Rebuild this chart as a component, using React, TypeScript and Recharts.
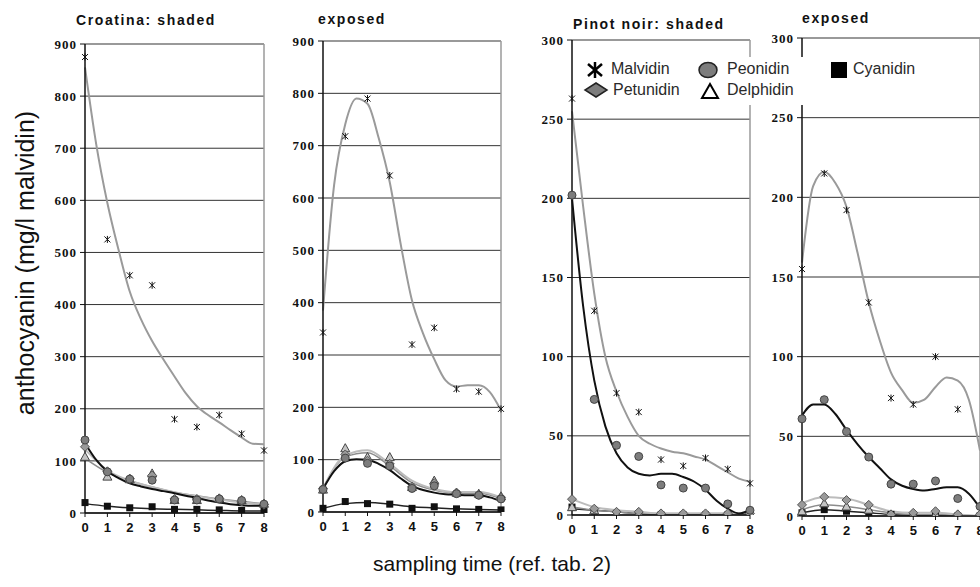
import React from 'react';
import {
  ComposedChart,
  Line,
  Scatter,
  XAxis,
  YAxis,
  CartesianGrid,
  ReferenceLine,
} from 'recharts';

// ── Sampling times ────────────────────────────────────────────────────────────

const SAMPLE_X = [0, 1, 2, 3, 4, 5, 6, 7, 8];
const FIT_X = [0, 0.5, 1, 1.5, 2, 2.5, 3, 3.5, 4, 4.5, 5, 5.5, 6, 6.5, 7, 7.5, 8];

// ── Croatina: shaded ──────────────────────────────────────────────────────────

const CS_MALVIDIN = [875, 525, 456, 437, 180, 165, 188, 152, 120];
const CS_PEONIDIN = [140, 79, 65, 63, 25, 25, 27, 24, 17];
const CS_PETUNIDIN = [127, 80, 66, 72, 27, 27, 28, 22, 16];
const CS_DELPHIDIN = [108, 70, 65, 76, 25, 25, 28, 25, 18];
const CS_CYANIDIN = [20, 13, 10, 12, 7, 7, 6, 5, 5];
const CS_MALVIDIN_FIT = [855, 708, 595, 505, 425, 372, 330, 295, 262, 230, 205, 188, 174, 159, 145, 133, 132];
const CS_PEONIDIN_FIT = [134, 102, 80, 67, 57, 51, 46, 42, 38, 33, 29, 24, 20, 17, 15, 14, 14];
const CS_PETUNIDIN_FIT = [122, 82, 62, 50, 40, 32, 26, 20, 17];
const CS_DELPHIDIN_FIT = [105, 78, 62, 50, 40, 33, 27, 22, 18];
const CS_CYANIDIN_FIT = [18, 13, 10, 8, 7, 6, 5, 4, 4];

// ── Croatina: exposed ─────────────────────────────────────────────────────────

const CE_MALVIDIN = [343, 718, 790, 643, 320, 352, 235, 230, 197];
const CE_PEONIDIN = [43, 103, 93, 88, 45, 50, 35, 32, 25];
const CE_PETUNIDIN = [45, 110, 98, 92, 48, 55, 37, 33, 28];
const CE_DELPHIDIN = [43, 122, 105, 105, 48, 60, 37, 35, 30];
const CE_CYANIDIN = [7, 20, 16, 15, 7, 10, 6, 5, 4];
const CE_MALVIDIN_FIT = [385, 625, 741, 790, 780, 715, 630, 510, 404, 341, 292, 252, 240, 242, 242, 229, 194];
const CE_PEONIDIN_FIT = [44, 78, 97, 101, 100, 92, 80, 64, 50, 42, 37, 34, 33, 32, 32, 28, 21];
const CE_PETUNIDIN_FIT = [45, 108, 118, 92, 60, 44, 38, 38, 28];
const CE_DELPHIDIN_FIT = [45, 105, 113, 88, 56, 42, 36, 36, 26];
const CE_CYANIDIN_FIT = [7, 16, 18, 15, 10, 8, 6, 5, 4];

// ── Pinot noir: shaded ────────────────────────────────────────────────────────

const PS_MALVIDIN = [263, 129, 77, 65, 35, 31, 36, 29, 20];
const PS_PEONIDIN = [202, 73, 44, 37, 19, 17, 17, 7, 3];
const PS_PETUNIDIN = [10, 4, 2, 2, 1, 1, 1, 1, 1];
const PS_DELPHIDIN = [5, 3, 1, 1, 0, 0, 0, 0, 0];
const PS_CYANIDIN = [5, 2, 1, 0, 0, 0, 0, 0, 0];
const PS_MALVIDIN_FIT = [255, 195, 140, 100, 78, 62, 50, 45, 42, 40, 39, 37, 35, 31, 27, 23, 21];
const PS_PEONIDIN_FIT = [200, 132, 85, 56, 39, 30, 26, 25, 26, 26, 24, 21, 16, 9, 4, 1, 3];
const PS_PETUNIDIN_FIT = [10, 5, 3, 2, 1, 1, 1, 1, 1];
const PS_DELPHIDIN_FIT = [5, 3, 2, 1, 1, 1, 1, 1, 1];
const PS_CYANIDIN_FIT = [4, 3, 2, 1, 0.5, 0.5, 0.5, 0.5, 0.5];

// ── Pinot noir: exposed ───────────────────────────────────────────────────────

const PE_MALVIDIN = [155, 215, 192, 134, 74, 70, 100, 67, null];
const PE_PEONIDIN = [61, 73, 53, 37, 20, 20, 22, 11, 6];
const PE_PETUNIDIN = [7, 12, 10, 7, 1, 2, 3, 1, 1];
const PE_DELPHIDIN = [3, 8, 6, 4, 1, 1, 1, 1, 0];
const PE_CYANIDIN = [2, 4, 3, 2, 1, 0, 0, 0, 0];
const PE_MALVIDIN_FIT = [159, 207, 216, 209, 194, 165, 134, 110, 90, 79, 71, 73, 81, 87, 85, 73, 41];
const PE_PEONIDIN_FIT = [63, 70, 70, 64, 54, 45, 37, 30, 23, 19, 17, 16, 17, 18, 18, 14, 5];
const PE_PETUNIDIN_FIT = [8, 12, 11, 7, 3, 2, 2, 1, 0];
const PE_DELPHIDIN_FIT = [4, 7, 6, 4, 2, 1, 1, 0.5, 0];
const PE_CYANIDIN_FIT = [2, 4, 3, 2, 1, 0.5, 0, 0, 0];

// ── Axis ticks ────────────────────────────────────────────────────────────────

const TICKS_900 = [0, 100, 200, 300, 400, 500, 600, 700, 800, 900];
const TICKS_300 = [0, 50, 100, 150, 200, 250, 300];

// ── Helpers ───────────────────────────────────────────────────────────────────

type Pt = { x: number; y: number };

const toPoints = (xs: number[], ys: (number | null)[]): Pt[] =>
  xs
    .map((x, i) => ({ x, y: ys[i] }))
    .filter((p): p is Pt => p.y !== null && p.y !== undefined);

// ── Marker shapes ─────────────────────────────────────────────────────────────

const AsteriskMark = (props: any) => {
  const { cx, cy } = props;
  const s = 3;
  return (
    <g stroke="#111" strokeWidth={1}>
      <line x1={cx - s} y1={cy - s} x2={cx + s} y2={cy + s} />
      <line x1={cx - s} y1={cy + s} x2={cx + s} y2={cy - s} />
      <line x1={cx} y1={cy - s - 0.5} x2={cx} y2={cy + s + 0.5} />
    </g>
  );
};

const CircleMark = (props: any) => (
  <circle cx={props.cx} cy={props.cy} r={4} fill="#7d7d7d" stroke="#444" strokeWidth={1} />
);

const DiamondMark = (props: any) => {
  const { cx, cy } = props;
  const s = 4.5;
  return (
    <polygon
      points={`${cx},${cy - s} ${cx + s},${cy} ${cx},${cy + s} ${cx - s},${cy}`}
      fill="#9a9a9a"
      stroke="#555"
      strokeWidth={1}
    />
  );
};

const TriangleMark = (props: any) => {
  const { cx, cy } = props;
  const s = 4.5;
  return (
    <polygon
      points={`${cx},${cy - s} ${cx + s},${cy + s * 0.8} ${cx - s},${cy + s * 0.8}`}
      fill="#c4c4c4"
      stroke="#444"
      strokeWidth={1}
    />
  );
};

const SquareMark = (props: any) => (
  <rect x={props.cx - 3.5} y={props.cy - 3.5} width={7} height={7} fill="#111" />
);

// ── Panels ────────────────────────────────────────────────────────────────────

interface Panel {
  title: string;
  titleX: number;
  titleY: number;
  plotLeft: number;
  plotRight: number;
  plotTop: number;
  plotBottom: number;
  yMax: number;
  yTicks: number[];
  malvidin: (number | null)[];
  peonidin: number[];
  petunidin: number[];
  delphidin: number[];
  cyanidin: number[];
  malvidinFit: number[];
  peonidinFit: number[];
  petunidinFit: number[];
  delphidinFit: number[];
  cyanidinFit: number[];
}

const PANELS: Panel[] = [
  {
    title: 'Croatina: shaded', titleX: 76, titleY: 25,
    plotLeft: 85, plotRight: 264, plotTop: 44, plotBottom: 513,
    yMax: 900, yTicks: TICKS_900,
    malvidin: CS_MALVIDIN, peonidin: CS_PEONIDIN, petunidin: CS_PETUNIDIN,
    delphidin: CS_DELPHIDIN, cyanidin: CS_CYANIDIN,
    malvidinFit: CS_MALVIDIN_FIT, peonidinFit: CS_PEONIDIN_FIT,
    petunidinFit: CS_PETUNIDIN_FIT, delphidinFit: CS_DELPHIDIN_FIT,
    cyanidinFit: CS_CYANIDIN_FIT,
  },
  {
    title: 'exposed', titleX: 318, titleY: 24,
    plotLeft: 323, plotRight: 501, plotTop: 41, plotBottom: 512,
    yMax: 900, yTicks: TICKS_900,
    malvidin: CE_MALVIDIN, peonidin: CE_PEONIDIN, petunidin: CE_PETUNIDIN,
    delphidin: CE_DELPHIDIN, cyanidin: CE_CYANIDIN,
    malvidinFit: CE_MALVIDIN_FIT, peonidinFit: CE_PEONIDIN_FIT,
    petunidinFit: CE_PETUNIDIN_FIT, delphidinFit: CE_DELPHIDIN_FIT,
    cyanidinFit: CE_CYANIDIN_FIT,
  },
  {
    title: 'Pinot noir: shaded', titleX: 573, titleY: 29,
    plotLeft: 572, plotRight: 750, plotTop: 40, plotBottom: 515,
    yMax: 300, yTicks: TICKS_300,
    malvidin: PS_MALVIDIN, peonidin: PS_PEONIDIN, petunidin: PS_PETUNIDIN,
    delphidin: PS_DELPHIDIN, cyanidin: PS_CYANIDIN,
    malvidinFit: PS_MALVIDIN_FIT, peonidinFit: PS_PEONIDIN_FIT,
    petunidinFit: PS_PETUNIDIN_FIT, delphidinFit: PS_DELPHIDIN_FIT,
    cyanidinFit: PS_CYANIDIN_FIT,
  },
  {
    title: 'exposed', titleX: 802, titleY: 23,
    plotLeft: 802, plotRight: 980, plotTop: 38, plotBottom: 516,
    yMax: 300, yTicks: TICKS_300,
    malvidin: PE_MALVIDIN, peonidin: PE_PEONIDIN, petunidin: PE_PETUNIDIN,
    delphidin: PE_DELPHIDIN, cyanidin: PE_CYANIDIN,
    malvidinFit: PE_MALVIDIN_FIT, peonidinFit: PE_PEONIDIN_FIT,
    petunidinFit: PE_PETUNIDIN_FIT, delphidinFit: PE_DELPHIDIN_FIT,
    cyanidinFit: PE_CYANIDIN_FIT,
  },
];

// ── Shared style constants ────────────────────────────────────────────────────

const Y_AXIS_W = 45;
const RIGHT_PAD = 10;
const X_AXIS_H = 30;

const Y_TICK_STYLE = {
  fontSize: 13,
  fontWeight: 'bold',
  fill: '#111',
  fontFamily: '"Liberation Serif", serif',
  letterSpacing: 1,
};

const X_TICK_STYLE = {
  fontSize: 13,
  fontWeight: 'bold',
  fill: '#111',
  fontFamily: '"Liberation Sans", Arial, sans-serif',
};

const TITLE_STYLE: React.CSSProperties = {
  position: 'absolute',
  fontFamily: '"Liberation Sans", Arial, sans-serif',
  fontWeight: 'bold',
  fontSize: 14,
  letterSpacing: 1.6,
  color: '#111',
  lineHeight: 1,
  whiteSpace: 'nowrap',
};

function PanelChart({ p }: { p: Panel }) {
  const width = p.plotRight - p.plotLeft + Y_AXIS_W + RIGHT_PAD;
  const height = p.plotBottom + X_AXIS_H + 2;
  const fitLine = (data: number[], xs: number[], color: string, w: number, key: string) => (
    <Line
      key={key}
      data={toPoints(xs, data)}
      dataKey="y"
      type="monotone"
      stroke={color}
      strokeWidth={w}
      dot={false}
      activeDot={false}
      isAnimationActive={false}
    />
  );
  return (
    <div style={{ position: 'absolute', left: p.plotLeft - Y_AXIS_W, top: 0 }}>
      <ComposedChart
        width={width}
        height={height}
        margin={{ top: p.plotTop, right: RIGHT_PAD, left: 0, bottom: 2 }}
      >
        <CartesianGrid horizontal vertical={false} stroke="#333" strokeWidth={1} />
        <XAxis
          type="number"
          dataKey="x"
          domain={[0, 8]}
          ticks={SAMPLE_X}
          interval={0}
          height={X_AXIS_H}
          tick={X_TICK_STYLE}
          tickSize={4}
          tickMargin={6}
          axisLine={{ stroke: '#111', strokeWidth: 1.5 }}
          tickLine={{ stroke: '#111' }}
          allowDecimals
        />
        <YAxis
          type="number"
          dataKey="y"
          domain={[0, p.yMax]}
          ticks={p.yTicks}
          interval={0}
          width={Y_AXIS_W}
          tick={Y_TICK_STYLE}
          tickSize={5}
          tickMargin={3}
          axisLine={{ stroke: '#111', strokeWidth: 1.5 }}
          tickLine={{ stroke: '#111' }}
          allowDataOverflow
        />
        <ReferenceLine x={8} stroke="#9a9a9a" strokeWidth={1.5} />
        <ReferenceLine y={p.yMax} stroke="#9a9a9a" strokeWidth={1.5} />

        {fitLine(p.cyanidinFit, SAMPLE_X, '#222', 1.5, 'cyf')}
        {fitLine(p.delphidinFit, SAMPLE_X, '#8c8c8c', 1.5, 'dlf')}
        {fitLine(p.petunidinFit, SAMPLE_X, '#bcbcbc', 2, 'ptf')}
        {fitLine(p.peonidinFit, FIT_X, '#111', 2, 'pef')}
        {fitLine(p.malvidinFit, FIT_X, '#9a9a9a', 2, 'mvf')}

        <Scatter data={toPoints(SAMPLE_X, p.cyanidin)} shape={SquareMark} isAnimationActive={false} />
        <Scatter data={toPoints(SAMPLE_X, p.delphidin)} shape={TriangleMark} isAnimationActive={false} />
        <Scatter data={toPoints(SAMPLE_X, p.petunidin)} shape={DiamondMark} isAnimationActive={false} />
        <Scatter data={toPoints(SAMPLE_X, p.peonidin)} shape={CircleMark} isAnimationActive={false} />
        <Scatter data={toPoints(SAMPLE_X, p.malvidin)} shape={AsteriskMark} isAnimationActive={false} />
      </ComposedChart>
    </div>
  );
}

// ── Legend ────────────────────────────────────────────────────────────────────

const LEGEND_TEXT: React.CSSProperties = {
  position: 'absolute',
  fontFamily: '"Liberation Sans", Arial, sans-serif',
  fontSize: 16,
  color: '#2a2a2a',
  lineHeight: 1,
  whiteSpace: 'nowrap',
};

function LegendBox() {
  return (
    <div style={{ position: 'absolute', left: 578, top: 57, width: 360, height: 48, background: '#fff' }}>
      <svg width={360} height={48} style={{ position: 'absolute', left: 0, top: 0 }}>
        {/* Malvidin asterisk */}
        <g stroke="#000" strokeWidth={2.5}>
          <line x1={10} y1={7} x2={24} y2={19} />
          <line x1={10} y1={19} x2={24} y2={7} />
          <line x1={17} y1={5} x2={17} y2={21} />
        </g>
        {/* Peonidin circle */}
        <ellipse cx={130} cy={13} rx={9} ry={7.5} fill="#7d7d7d" stroke="#222" strokeWidth={1.5} />
        {/* Cyanidin square */}
        <rect x={253} y={5} width={16} height={16} fill="#000" />
        {/* Petunidin diamond */}
        <polygon points="18,26 29,33 18,40 7,33" fill="#7d7d7d" stroke="#222" strokeWidth={1.5} />
        {/* Delphidin triangle */}
        <polygon points="132,27 140,41 124,41" fill="#fff" stroke="#000" strokeWidth={2} />
      </svg>
      <span style={{ ...LEGEND_TEXT, left: 33, top: 4 }}>Malvidin</span>
      <span style={{ ...LEGEND_TEXT, left: 149, top: 4 }}>Peonidin</span>
      <span style={{ ...LEGEND_TEXT, left: 275, top: 4 }}>Cyanidin</span>
      <span style={{ ...LEGEND_TEXT, left: 35, top: 25 }}>Petunidin</span>
      <span style={{ ...LEGEND_TEXT, left: 149, top: 25 }}>Delphidin</span>
    </div>
  );
}

// ── App ───────────────────────────────────────────────────────────────────────

export default function App() {
  return (
    <div
      style={{
        position: 'absolute',
        left: 0,
        top: 0,
        width: 980,
        height: 587,
        overflow: 'hidden',
        background: '#fff',
      }}
    >
      {PANELS.map((p, i) => (
        <PanelChart key={i} p={p} />
      ))}
      {PANELS.map((p, i) => (
        <div key={`t${i}`} style={{ ...TITLE_STYLE, left: p.titleX, top: p.titleY - 12 }}>
          {p.title}
        </div>
      ))}
      <LegendBox />
      <div
        style={{
          position: 'absolute',
          left: 25,
          top: 263,
          transform: 'translate(-50%, -50%) rotate(-90deg)',
          fontFamily: '"Liberation Sans", Arial, sans-serif',
          fontSize: 25,
          color: '#111',
          whiteSpace: 'nowrap',
          lineHeight: 1,
        }}
      >
        anthocyanin (mg/l malvidin)
      </div>
      <div
        style={{
          position: 'absolute',
          left: 492,
          top: 563,
          transform: 'translate(-50%, -50%)',
          fontFamily: '"Liberation Sans", Arial, sans-serif',
          fontSize: 21,
          color: '#111',
          whiteSpace: 'nowrap',
          lineHeight: 1,
        }}
      >
        sampling time (ref. tab. 2)
      </div>
    </div>
  );
}
